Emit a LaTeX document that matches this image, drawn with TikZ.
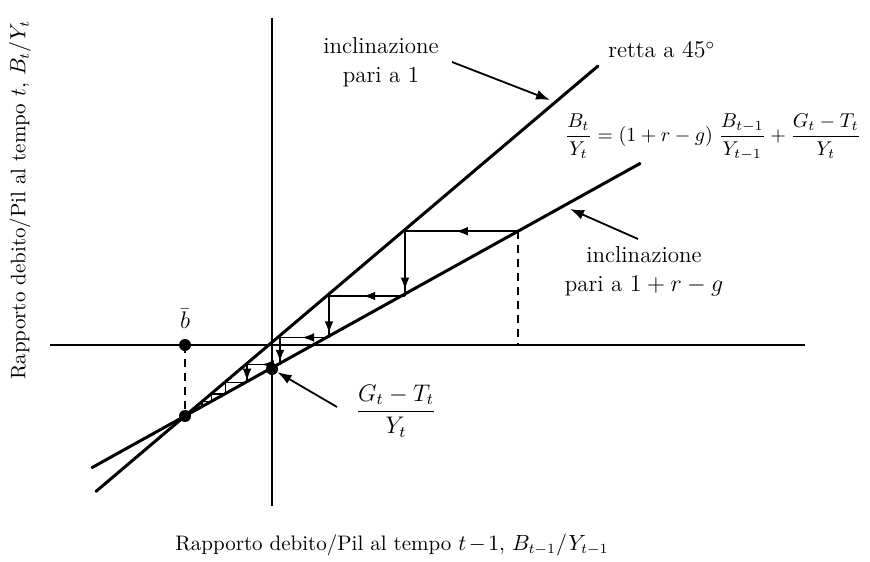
\documentclass[tikz,border=0pt]{standalone}
\usepackage{amsmath}
\usetikzlibrary{arrows.meta,decorations.markings}
\begin{document}
\begin{tikzpicture}[x=0.5pt,y=-0.5pt,
  every node/.style={font=\fontsize{11.5}{13.5}\selectfont, inner sep=0pt},
  axislabel/.style={font=\fontsize{10.5}{12}\selectfont},
  eqlabel/.style={font=\fontsize{10.4}{12}\selectfont},
  axis/.style={line width=0.9pt},
  mainline/.style={line width=1.5pt, line cap=round},
  stepline/.style={line width=0.75pt},
  hstep/.style={stepline, postaction={decorate}, decoration={markings,
      mark=at position 0.55 with {\arrow{Latex[length=6pt,width=4.4pt]}}}},
  vstep/.style={stepline, postaction={decorate}, decoration={markings,
      mark=at position 0.9 with {\arrow{Latex[length=6pt,width=4.4pt]}}}},
  dashline/.style={line width=0.9pt, dash pattern=on 4pt off 3pt},
  pointer/.style={line width=0.9pt, -{Latex[length=7pt,width=5pt]}},
  dot/.style={circle, fill=black, minimum size=6pt, inner sep=0pt}]
\useasboundingbox (0,0) rectangle (870,561);
% axes
\coordinate (xl) at (50,345);
\coordinate (xr) at (805,345);
\coordinate (yt) at (272,18);
\coordinate (yb) at (272,506);
\draw[axis] (xl) -- (xr);
\draw[axis] (yt) -- (yb);
% lines
\coordinate (a1) at (96,491.4);
\coordinate (a2) at (598,66);
\coordinate (b1) at (92,467.6);
\coordinate (b2) at (640,163.5);
\draw[mainline] (a1) -- (a2);
\draw[mainline] (b1) -- (b2);
% dashed
\coordinate (s0) at (518,231.2);
\coordinate (s0b) at (518,345);
\draw[dashline] (s0) -- (s0b);
\coordinate (bb) at (185,345);
\coordinate (fp) at (185,416);
\draw[dashline] (bb) -- (fp);
% staircase
\coordinate (h1) at (405,231.2); \coordinate (v1) at (405,296.0);
\coordinate (h2) at (329,296.0); \coordinate (v2) at (329,337.5);
\coordinate (h3) at (280,337.5); \coordinate (v3) at (280,364.5);
\coordinate (h4) at (247,364.5); \coordinate (v4) at (247,382.5);
\coordinate (h5) at (225.5,382.5); \coordinate (v5) at (225.5,394.0);
\coordinate (h6) at (211.5,394.0); \coordinate (v6) at (211.5,401.5);
\coordinate (h7) at (202.2,401.5); \coordinate (v7) at (202.2,406.5);
\draw[hstep] (s0) -- (h1); \draw[vstep] (h1) -- (v1);
\draw[hstep] (v1) -- (h2); \draw[vstep] (h2) -- (v2);
\draw[hstep] (v2) -- (h3); \draw[vstep] (h3) -- (v3);
\draw[hstep] (v3) -- (h4); \draw[vstep] (h4) -- (v4);
\draw[stepline] (v4) -- (h5) -- (v5) -- (h6) -- (v6) -- (h7) -- (v7);
% dots
\node[dot] (dbb) at (bb) {};
\node[dot] (dfp) at (fp) {};
\node[dot] (dint) at (272,369) {};
% labels
\node (bbar) at (185,319) {$\bar b$};
\node[align=center] (inc1) at (381,62) {inclinazione\\[1pt]pari a 1};
\coordinate (inc1t) at (550,100);
\draw[pointer] (452,62) -- (inc1t);
\node[anchor=west] (retta) at (608,50) {retta a $45^\circ$};
\node[eqlabel] (eq) at (713,137) {$\dfrac{B_t}{Y_t} = (1+r-g)\;\dfrac{B_{t-1}}{Y_{t-1}} + \dfrac{G_t-T_t}{Y_t}$};
\node[align=center] (inc2) at (644,271) {inclinazione\\[1pt]pari a $1+r-g$};
\coordinate (inc2s) at (638,239);
\coordinate (inc2t) at (570,209);
\draw[pointer] (inc2s) -- (inc2t);
\node (gt) at (396,411) {$\dfrac{G_t-T_t}{Y_t}$};
\coordinate (gts) at (337,407);
\draw[pointer] (gts) -- (dint);
\node[axislabel, rotate=90] (ylab) at (20,200) {Rapporto debito/Pil al tempo $t$, $B_t/Y_t$};
\node[axislabel] (xlab) at (392,545) {Rapporto debito/Pil al tempo {\medmuskip=2mu $t-1$}, $B_{t-1}/Y_{t-1}$};
\end{tikzpicture}
\end{document}
